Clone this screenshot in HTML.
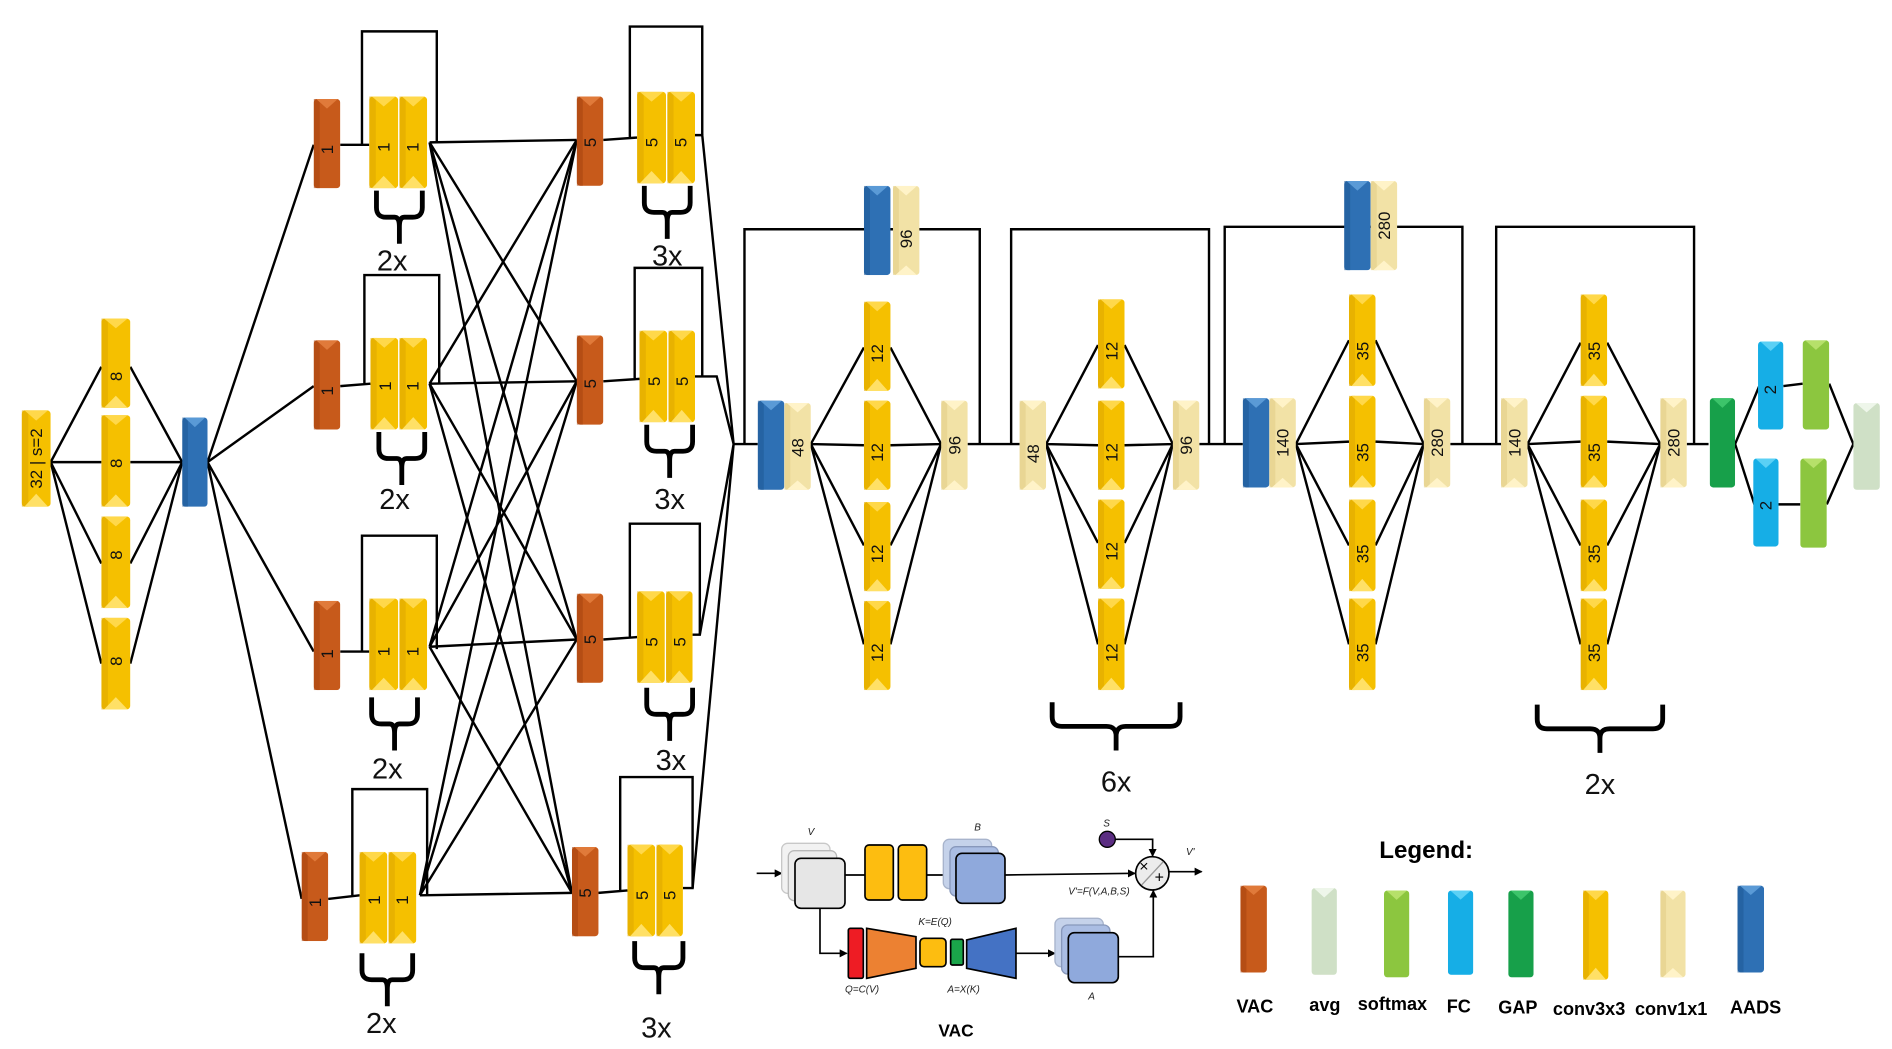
<!DOCTYPE html>
<html><head><meta charset="utf-8"><style>
html,body{margin:0;padding:0;background:#fff;}
svg{display:block;}
text{font-family:"Liberation Sans",sans-serif;}
.l{font-size:14px;fill:#111;}
.n{font-size:24px;fill:#111;}
</style></head><body>
<svg width="1892" height="1049" viewBox="0 0 1892 1049" xmlns="http://www.w3.org/2000/svg">
<defs>
<symbol id="Y" viewBox="0 0 22 74" preserveAspectRatio="none"><rect x="0" y="0" width="22" height="74" rx="3" fill="#f5c000"/><rect x="0" y="0" width="5" height="74" fill="#e0a800" opacity=".6"/><polygon points="2,0 20,0 11,8" fill="#ffd84a"/><polygon points="2,74 20,74 11,64" fill="#ffe066"/></symbol>
<symbol id="O" viewBox="0 0 22 74" preserveAspectRatio="none"><rect x="0" y="0" width="22" height="74" rx="3" fill="#c75a1b"/><rect x="0" y="0" width="5" height="74" fill="#a84510" opacity=".6"/><polygon points="2,0 20,0 11,8" fill="#e07a3a"/></symbol>
<symbol id="B" viewBox="0 0 22 74" preserveAspectRatio="none"><rect x="0" y="0" width="22" height="74" rx="3" fill="#2e70b4"/><rect x="0" y="0" width="5" height="74" fill="#1f5a98" opacity=".6"/><polygon points="2,0 20,0 11,8" fill="#5a9ad6"/></symbol>
<symbol id="C" viewBox="0 0 22 74" preserveAspectRatio="none"><rect x="0" y="0" width="22" height="74" rx="3" fill="#f2e2a6"/><rect x="0" y="0" width="5" height="74" fill="#e2cf88" opacity=".6"/><polygon points="2,0 20,0 11,8" fill="#fff3c8"/><polygon points="2,74 20,74 11,66" fill="#fff3c8"/></symbol>
<symbol id="G" viewBox="0 0 22 74" preserveAspectRatio="none"><rect x="0" y="0" width="22" height="74" rx="3" fill="#17a04a"/><polygon points="2,0 20,0 11,8" fill="#3cc46a"/></symbol>
<symbol id="F" viewBox="0 0 22 74" preserveAspectRatio="none"><rect x="0" y="0" width="22" height="74" rx="3" fill="#16aee6"/><polygon points="2,0 20,0 11,8" fill="#5ad0f5"/></symbol>
<symbol id="S" viewBox="0 0 22 74" preserveAspectRatio="none"><rect x="0" y="0" width="22" height="74" rx="3" fill="#8cc63f"/><polygon points="2,0 20,0 11,8" fill="#b6e06a"/></symbol>
<symbol id="A" viewBox="0 0 22 74" preserveAspectRatio="none"><rect x="0" y="0" width="22" height="74" rx="3" fill="#cfe0c6"/><polygon points="2,0 20,0 11,8" fill="#eef6ea"/></symbol>
<marker id="ar" markerWidth="8" markerHeight="8" refX="7" refY="4" orient="auto" markerUnits="userSpaceOnUse"><path d="M0,0 L8,4 L0,8z" fill="#000"/></marker>
<marker id="ar2" markerWidth="24" markerHeight="24" refX="21" refY="12" orient="auto" markerUnits="userSpaceOnUse"><path d="M0,0 L24,12 L0,24z" fill="#000"/></marker>
</defs>

<g transform="scale(1.2066)">
<!-- lines -->
<g stroke="#000" stroke-width="2" fill="none">
<!-- first part -->
<path d="M42,383 L84,304 M42,383 L84,383 M42,383 L84,467 M42,383 L84,550"/>
<path d="M108,304 L151,383 M108,383 L151,383 M108,467 L151,383 M108,550 L151,383"/>
<path d="M172,383 L260,120 M172,383 L260,320 M172,383 L260,540 M172,383 L250,745"/>
<!-- col3 to pairs + skip boxes -->
<path d="M282,120 L306,120 M300,120 L300,26 L362,26 L362,118"/>
<path d="M282,320 L307,318 M302,318 L302,228 L364,228 L364,318"/>
<path d="M282,540 L306,540 M300,540 L300,444 L362,444 L362,538"/>
<path d="M272,745 L298,742 M292,742 L292,654 L354,654 L354,742"/>
<!-- crossing -->
<path d="M356,118 L478,116 M356,118 L478,316 M356,118 L478,530 M356,118 L474,740"/>
<path d="M356,318 L478,116 M356,318 L478,316 M356,318 L478,530 M356,318 L474,740"/>
<path d="M356,536 L478,116 M356,536 L478,316 M356,536 L478,530 M356,536 L474,740"/>
<path d="M348,742 L478,116 M348,742 L478,316 M348,742 L478,530 M348,742 L474,740"/>
<!-- col5 to col6 -->
<path d="M500,116 L528,114 M522,114 L522,22 L582,22 L582,112"/>
<path d="M500,316 L530,314 M526,314 L526,222 L582,222 L582,312"/>
<path d="M500,530 L528,528 M522,528 L522,434 L580,434 L580,526"/>
<path d="M496,740 L520,738 M514,738 L514,644 L574,644 L574,736"/>
<path d="M576,112 L582,112 L608,368 M576,312 L594,312 L608,368 M574,526 L580,526 L608,368 M566,736 L574,736 L608,368 M608,368 L628,368"/>
<!-- stage A -->
<path d="M617,368 L617,190 L812,190 L812,368"/>
<path d="M672,368 L716,288 M672,368 L716,369 M672,368 L716,452 M672,368 L716,534"/>
<path d="M738,288 L780,368 M738,369 L780,368 M738,452 L780,368 M738,534 L780,368 M802,368 L845,368"/>
<!-- stage B -->
<path d="M838,368 L838,190 L1002,190 L1002,368"/>
<path d="M867,368 L910,286 M867,368 L910,369 M867,368 L910,450 M867,368 L910,534"/>
<path d="M932,286 L972,368 M932,369 L972,368 M932,450 L972,368 M932,534 L972,368 M994,368 L1030,368"/>
<!-- stage C -->
<path d="M1015,368 L1015,188 L1212,188 L1212,368"/>
<path d="M1074,368 L1118,282 M1074,368 L1118,366 M1074,368 L1118,452 M1074,368 L1118,534"/>
<path d="M1140,282 L1180,368 M1140,366 L1180,368 M1140,452 L1180,368 M1140,534 L1180,368 M1202,368 L1244,368"/>
<!-- stage D -->
<path d="M1240,368 L1240,188 L1404,188 L1404,368"/>
<path d="M1266,368 L1310,284 M1266,368 L1310,366 M1266,368 L1310,452 M1266,368 L1310,534"/>
<path d="M1332,284 L1376,368 M1332,366 L1376,368 M1332,452 L1376,368 M1332,534 L1376,368 M1398,368 L1416,368"/>
<!-- head -->
<path d="M1438,368 L1458,320 M1438,368 L1454,418 M1478,320 L1494,318 M1474,418 L1492,418 M1516,318 L1536,368 M1514,418 L1536,368"/>
</g>
<!-- braces -->
<g stroke="#000" stroke-width="4" fill="none">
<path d="M312,158 l0,14 q0,8 8,8 l7,0 q4,0 4,8 l0,14 m0,-14 q0,-8 4,-8 l7,0 q8,0 8,-8 l0,-14"/>
<path d="M314,358 l0,14 q0,8 8,8 l7,0 q4,0 4,8 l0,14 m0,-14 q0,-8 4,-8 l7,0 q8,0 8,-8 l0,-14"/>
<path d="M308,578 l0,14 q0,8 8,8 l7,0 q4,0 4,8 l0,14 m0,-14 q0,-8 4,-8 l7,0 q8,0 8,-8 l0,-14"/>
<path d="M300,790 l0,14 q0,8 8,8 l9,0 q4,0 4,8 l0,14 m0,-14 q0,-8 4,-8 l9,0 q8,0 8,-8 l0,-14"/>
<path d="M534,154 l0,14 q0,8 8,8 l7,0 q4,0 4,8 l0,14 m0,-14 q0,-8 4,-8 l7,0 q8,0 8,-8 l0,-14"/>
<path d="M536,352 l0,14 q0,8 8,8 l7,0 q4,0 4,8 l0,14 m0,-14 q0,-8 4,-8 l7,0 q8,0 8,-8 l0,-14"/>
<path d="M536,570 l0,14 q0,8 8,8 l7,0 q4,0 4,8 l0,14 m0,-14 q0,-8 4,-8 l7,0 q8,0 8,-8 l0,-14"/>
<path d="M526,780 l0,14 q0,8 8,8 l8,0 q4,0 4,8 l0,14 m0,-14 q0,-8 4,-8 l8,0 q8,0 8,-8 l0,-14"/>
<path d="M872,582 l0,12 q0,8 8,8 l37,0 q8,0 8,8 l0,12 m0,-12 q0,-8 8,-8 l37,0 q8,0 8,-8 l0,-12"/>
<path d="M1274,584 l0,12 q0,8 8,8 l36,0 q8,0 8,8 l0,12 m0,-12 q0,-8 8,-8 l36,0 q8,0 8,-8 l0,-12"/>
</g>
<g class="n" text-anchor="middle">
<text x="325" y="224">2x</text><text x="327" y="422">2x</text><text x="321" y="645">2x</text><text x="316" y="856">2x</text>
<text x="553" y="220">3x</text><text x="555" y="422">3x</text><text x="556" y="638">3x</text><text x="544" y="860">3x</text>
<text x="925" y="656">6x</text><text x="1326" y="658">2x</text>
</g>

<!-- blocks -->
<use href="#Y" x="18" y="340" width="24" height="80"/>
<use href="#Y" x="84" y="264" width="24" height="74"/><use href="#Y" x="84" y="344" width="24" height="76"/><use href="#Y" x="84" y="428" width="24" height="76"/><use href="#Y" x="84" y="512" width="24" height="76"/>
<use href="#B" x="151" y="346" width="21" height="74"/>
<use href="#O" x="260" y="82" width="22" height="74"/><use href="#O" x="260" y="282" width="22" height="74"/><use href="#O" x="260" y="498" width="22" height="74"/><use href="#O" x="250" y="706" width="22" height="74"/>
<use href="#Y" x="306" y="80" width="24" height="76"/><use href="#Y" x="331" y="80" width="23" height="76"/>
<use href="#Y" x="307" y="280" width="23" height="76"/><use href="#Y" x="331" y="280" width="23" height="76"/>
<use href="#Y" x="306" y="496" width="24" height="76"/><use href="#Y" x="331" y="496" width="23" height="76"/>
<use href="#Y" x="298" y="706" width="23" height="76"/><use href="#Y" x="322" y="706" width="23" height="76"/>
<use href="#O" x="478" y="80" width="22" height="74"/><use href="#O" x="478" y="278" width="22" height="74"/><use href="#O" x="478" y="492" width="22" height="74"/><use href="#O" x="474" y="702" width="22" height="74"/>
<use href="#Y" x="528" y="76" width="24" height="76"/><use href="#Y" x="553" y="76" width="23" height="76"/>
<use href="#Y" x="530" y="274" width="23" height="76"/><use href="#Y" x="554" y="274" width="22" height="76"/>
<use href="#Y" x="528" y="490" width="23" height="76"/><use href="#Y" x="552" y="490" width="22" height="76"/>
<use href="#Y" x="520" y="700" width="23" height="76"/><use href="#Y" x="544" y="700" width="22" height="76"/>
<use href="#B" x="628" y="332" width="22" height="74"/><use href="#C" x="650" y="334" width="22" height="72"/>
<use href="#B" x="716" y="154" width="22" height="74"/><use href="#C" x="740" y="154" width="22" height="74"/>
<use href="#Y" x="716" y="250" width="22" height="74"/><use href="#Y" x="716" y="332" width="22" height="74"/><use href="#Y" x="716" y="416" width="22" height="74"/><use href="#Y" x="716" y="498" width="22" height="74"/>
<use href="#C" x="780" y="332" width="22" height="74"/>
<use href="#C" x="845" y="332" width="22" height="74"/>
<use href="#Y" x="910" y="248" width="22" height="74"/><use href="#Y" x="910" y="332" width="22" height="74"/><use href="#Y" x="910" y="414" width="22" height="74"/><use href="#Y" x="910" y="496" width="22" height="76"/>
<use href="#C" x="972" y="332" width="22" height="74"/>
<use href="#B" x="1030" y="330" width="22" height="74"/><use href="#C" x="1052" y="330" width="22" height="74"/>
<use href="#B" x="1114" y="150" width="22" height="74"/><use href="#C" x="1136" y="150" width="22" height="74"/>
<use href="#Y" x="1118" y="244" width="22" height="76"/><use href="#Y" x="1118" y="328" width="22" height="76"/><use href="#Y" x="1118" y="414" width="22" height="76"/><use href="#Y" x="1118" y="496" width="22" height="76"/>
<use href="#C" x="1180" y="330" width="22" height="74"/>
<use href="#C" x="1244" y="330" width="22" height="74"/>
<use href="#Y" x="1310" y="244" width="22" height="76"/><use href="#Y" x="1310" y="328" width="22" height="76"/><use href="#Y" x="1310" y="414" width="22" height="76"/><use href="#Y" x="1310" y="496" width="22" height="76"/>
<use href="#C" x="1376" y="330" width="22" height="74"/>
<use href="#G" x="1417" y="330" width="21" height="74"/>
<use href="#F" x="1457" y="283" width="21" height="73"/><use href="#F" x="1453" y="380" width="21" height="73"/>
<use href="#S" x="1494" y="282" width="22" height="74"/><use href="#S" x="1492" y="380" width="22" height="74"/>
<use href="#A" x="1536" y="334" width="22" height="72"/>

<!-- block labels -->
<g class="l" text-anchor="middle">
<text transform="translate(35,380) rotate(-90)">32 | s=2</text>
<text transform="translate(101,312) rotate(-90)">8</text><text transform="translate(101,384) rotate(-90)">8</text><text transform="translate(101,460) rotate(-90)">8</text><text transform="translate(101,548) rotate(-90)">8</text>
<text transform="translate(276,124) rotate(-90)">1</text><text transform="translate(276,324) rotate(-90)">1</text><text transform="translate(276,542) rotate(-90)">1</text><text transform="translate(266,748) rotate(-90)">1</text>
<text transform="translate(323,122) rotate(-90)">1</text><text transform="translate(347,122) rotate(-90)">1</text>
<text transform="translate(324,320) rotate(-90)">1</text><text transform="translate(347,320) rotate(-90)">1</text>
<text transform="translate(323,540) rotate(-90)">1</text><text transform="translate(347,540) rotate(-90)">1</text>
<text transform="translate(315,746) rotate(-90)">1</text><text transform="translate(338,746) rotate(-90)">1</text>
<text transform="translate(494,118) rotate(-90)">5</text><text transform="translate(494,318) rotate(-90)">5</text><text transform="translate(494,530) rotate(-90)">5</text><text transform="translate(490,740) rotate(-90)">5</text>
<text transform="translate(545,118) rotate(-90)">5</text><text transform="translate(569,118) rotate(-90)">5</text>
<text transform="translate(547,316) rotate(-90)">5</text><text transform="translate(570,316) rotate(-90)">5</text>
<text transform="translate(545,532) rotate(-90)">5</text><text transform="translate(568,532) rotate(-90)">5</text>
<text transform="translate(537,742) rotate(-90)">5</text><text transform="translate(560,742) rotate(-90)">5</text>
<text transform="translate(666,371) rotate(-90)">48</text>
<text transform="translate(756,198) rotate(-90)">96</text>
<text transform="translate(732,293) rotate(-90)">12</text><text transform="translate(732,375) rotate(-90)">12</text><text transform="translate(732,459) rotate(-90)">12</text><text transform="translate(732,541) rotate(-90)">12</text>
<text transform="translate(796,369) rotate(-90)">96</text>
<text transform="translate(861,376) rotate(-90)">48</text>
<text transform="translate(926,291) rotate(-90)">12</text><text transform="translate(926,375) rotate(-90)">12</text><text transform="translate(926,457) rotate(-90)">12</text><text transform="translate(926,541) rotate(-90)">12</text>
<text transform="translate(988,369) rotate(-90)">96</text>
<text transform="translate(1068,367) rotate(-90)">140</text>
<text transform="translate(1152,187) rotate(-90)">280</text>
<text transform="translate(1134,291) rotate(-90)">35</text><text transform="translate(1134,375) rotate(-90)">35</text><text transform="translate(1134,459) rotate(-90)">35</text><text transform="translate(1134,541) rotate(-90)">35</text>
<text transform="translate(1196,367) rotate(-90)">280</text>
<text transform="translate(1260,367) rotate(-90)">140</text>
<text transform="translate(1326,291) rotate(-90)">35</text><text transform="translate(1326,375) rotate(-90)">35</text><text transform="translate(1326,459) rotate(-90)">35</text><text transform="translate(1326,541) rotate(-90)">35</text>
<text transform="translate(1392,367) rotate(-90)">280</text>
<text transform="translate(1472,323) rotate(-90)">2</text><text transform="translate(1468,419) rotate(-90)">2</text>
</g>

<!-- legend -->
<text x="1182" y="711" text-anchor="middle" style="font-size:20px;font-weight:bold">Legend:</text>
<use href="#O" x="1028" y="734" width="22" height="72"/>
<use href="#A" x="1087" y="736" width="21" height="72"/>
<use href="#S" x="1147" y="738" width="21" height="72"/>
<use href="#F" x="1200" y="738" width="21" height="70"/>
<use href="#G" x="1250" y="738" width="21" height="72"/>
<use href="#Y" x="1312" y="738" width="21" height="74"/>
<use href="#C" x="1376" y="738" width="21" height="72"/>
<use href="#B" x="1440" y="734" width="22" height="72"/>
<g text-anchor="middle" style="font-size:15px;font-weight:bold">
<text x="1040" y="839">VAC</text><text x="1098" y="838">avg</text><text x="1154" y="837">softmax</text><text x="1209" y="839">FC</text><text x="1258" y="840">GAP</text><text x="1317" y="841">conv3x3</text><text x="1385" y="841">conv1x1</text><text x="1455" y="840">AADS</text>
</g>
</g>

<!-- VAC sub-diagram in zoom coords -->
<g transform="translate(740,800) scale(0.3333)">
<g stroke="#000" stroke-width="5" fill="none">
<path d="M50,220 L125,220" marker-end="url(#ar2)"/>
<path d="M315,225 L375,225"/><path d="M560,225 L645,225" marker-end="url(#ar2)"/>
<path d="M795,225 L1185,220" marker-end="url(#ar2)"/>
<path d="M1127,118 L1238,118 L1238,168" marker-end="url(#ar2)"/>
<path d="M1285,215 L1385,215" marker-end="url(#ar2)"/>
<path d="M240,325 L240,460 L320,460" marker-end="url(#ar2)"/>
<path d="M828,460 L945,460" marker-end="url(#ar2)"/>
<path d="M1135,470 L1240,470 L1240,272" marker-end="url(#ar2)"/>
</g>
<rect x="125" y="130" width="145" height="150" rx="18" fill="#f2f2f2" stroke="#c8c8c8" stroke-width="4"/>
<rect x="145" y="152" width="145" height="150" rx="18" fill="#ececec" stroke="#b8b8b8" stroke-width="4"/>
<rect x="165" y="175" width="150" height="150" rx="18" fill="#e6e6e6" stroke="#000" stroke-width="5"/>
<rect x="375" y="135" width="85" height="165" rx="12" fill="#fdbd10" stroke="#000" stroke-width="5"/>
<rect x="475" y="135" width="85" height="165" rx="12" fill="#fdbd10" stroke="#000" stroke-width="5"/>
<rect x="610" y="118" width="145" height="148" rx="18" fill="#c5d2ea" stroke="#a8b4cc" stroke-width="4"/>
<rect x="630" y="140" width="145" height="148" rx="18" fill="#aabde3" stroke="#8898bb" stroke-width="4"/>
<rect x="648" y="160" width="147" height="150" rx="18" fill="#8fa9dc" stroke="#000" stroke-width="5"/>
<rect x="945" y="355" width="145" height="145" rx="18" fill="#c5d2ea" stroke="#a8b4cc" stroke-width="4"/>
<rect x="965" y="375" width="145" height="147" rx="18" fill="#aabde3" stroke="#8898bb" stroke-width="4"/>
<rect x="985" y="398" width="150" height="150" rx="18" fill="#8fa9dc" stroke="#000" stroke-width="5"/>
<rect x="325" y="385" width="45" height="150" rx="6" fill="#ee1c24" stroke="#000" stroke-width="5"/>
<polygon points="380,385 528,410 528,505 380,535" fill="#ec8132" stroke="#000" stroke-width="5"/>
<rect x="540" y="415" width="78" height="85" rx="12" fill="#fdbd10" stroke="#000" stroke-width="5"/>
<rect x="632" y="418" width="38" height="77" rx="5" fill="#1aa54a" stroke="#000" stroke-width="5"/>
<polygon points="680,420 828,385 828,535 680,505" fill="#4472c4" stroke="#000" stroke-width="5"/>
<circle cx="1102" cy="118" r="24" fill="#5b2d82" stroke="#000" stroke-width="4"/>
<circle cx="1237" cy="220" r="50" fill="#ececec" stroke="#000" stroke-width="5"/>
<path d="M1205,255 L1270,185" stroke="#999" stroke-width="4"/>
<g font-family="Liberation Serif,serif" font-style="italic" font-size="30" fill="#222">
<text x="203" y="105">V</text><text x="703" y="92">B</text><text x="1090" y="80">S</text><text x="1338" y="165">V'</text>
<text x="985" y="283">V'=F(V,A,B,S)</text><text x="535" y="375">K=E(Q)</text><text x="315" y="578">Q=C(V)</text><text x="622" y="578">A=X(K)</text><text x="1045" y="598">A</text>
</g>
<text x="1212" y="215" font-size="48" text-anchor="middle" fill="#000">×</text>
<text x="1258" y="248" font-size="48" text-anchor="middle" fill="#000">+</text>
<text x="648" y="710" text-anchor="middle" style="font-size:52px;font-weight:bold">VAC</text>
</g>
</svg>
</body></html>
